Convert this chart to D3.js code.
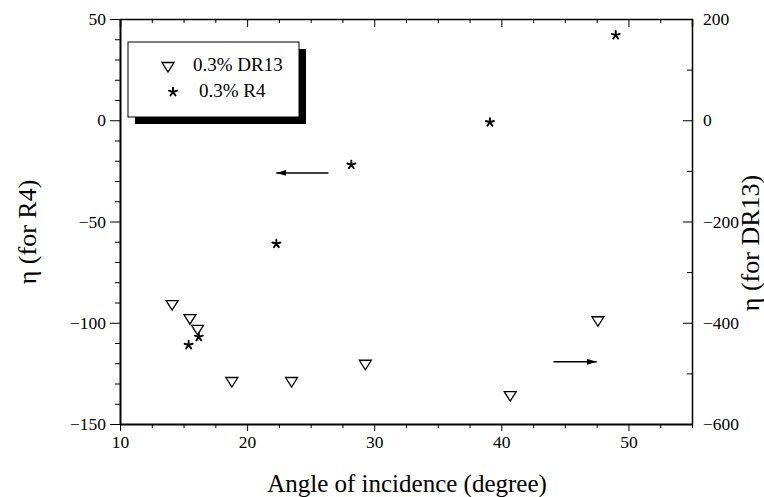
<!DOCTYPE html>
<html>
<head>
<meta charset="utf-8">
<script src="https://cdn.jsdelivr.net/npm/d3@7"></script>
<style>
	body { margin: 0; background: #fff; }
	.axis path, .axis line { stroke: #000; }
</style>
</head>
<body>
<svg id="chart"></svg>
<script>
// angle of incidence (degree) and eta values
const r4Angle = [15.4, 16.2, 22.3, 28.2, 39.1, 49.0];
const r4Eta = [-111, -107, -61, -22, -1, 42];

const dr13Angle = [14.1, 15.5, 16.1, 18.8, 23.5, 29.3, 40.7, 47.6];
const dr13Eta = [-365, -393, -414, -517, -517, -483, -545, -397];

const xTicks = [10, 20, 30, 40, 50];
const yLeftTicks = [50, 0, -50, -100, -150];
const yRightTicks = [200, 0, -200, -400, -600];

const seriesNames = ['0.3% DR13', '0.3% R4'];

const FONT = '"Liberation Serif"';

const config = {
	width: 764,
	height: 497,
	margin: { top: 19, right: 72, bottom: 73, left: 120 },
};

const svg = d3.select('#chart')
	.attr('width', config.width)
	.attr('height', config.height);

const w = config.width - config.margin.left - config.margin.right;
const h = config.height - config.margin.top - config.margin.bottom;

const chart = svg.append('g')
	.attr('transform', `translate(${config.margin.left},${config.margin.top})`);

const x = d3.scaleLinear().domain([10, 55]).range([0, w]);
const yL = d3.scaleLinear().domain([-150, 50]).range([h, 0]);
const yR = d3.scaleLinear().domain([-600, 200]).range([h, 0]);

// minor tick values
const xMinor = d3.range(10, 55.01, 2.5).filter(v => v % 10 !== 0);
const yLMinor = d3.range(-150, 50.01, 10).filter(v => v % 50 !== 0);
const yRMinor = d3.range(-600, 200.01, 100).filter(v => v % 200 !== 0);

// bottom axis (ticks outward)
chart.append('g').attr('class', 'axis')
	.attr('transform', `translate(0,${h})`)
	.call(d3.axisBottom(x).tickValues(xTicks).tickSizeInner(7).tickSizeOuter(0).tickPadding(5))
	.call(g => g.select('.domain').attr('stroke-width', 2));
chart.append('g').attr('class', 'axis')
	.attr('transform', `translate(0,${h})`)
	.call(d3.axisBottom(x).tickValues(xMinor).tickSize(4).tickFormat(''))
	.call(g => g.select('.domain').remove());

// top axis (ticks inward)
chart.append('g').attr('class', 'axis')
	.call(d3.axisTop(x).tickValues(xTicks).tickSize(-8).tickFormat(''))
	.call(g => g.select('.domain').attr('stroke-width', 1.5));
chart.append('g').attr('class', 'axis')
	.call(d3.axisTop(x).tickValues(xMinor).tickSize(-4).tickFormat(''))
	.call(g => g.select('.domain').remove());

// left axis (ticks outward)
chart.append('g').attr('class', 'axis')
	.call(d3.axisLeft(yL).tickValues(yLeftTicks).tickSizeInner(10).tickSizeOuter(0).tickPadding(4))
	.call(g => g.select('.domain').attr('stroke-width', 2));
chart.append('g').attr('class', 'axis')
	.call(d3.axisLeft(yL).tickValues(yLMinor).tickSize(5).tickFormat(''))
	.call(g => g.select('.domain').remove());

// right axis (ticks inward)
chart.append('g').attr('class', 'axis')
	.attr('transform', `translate(${w},0)`)
	.call(d3.axisRight(yR).tickValues(yRightTicks).tickSizeInner(-9).tickSizeOuter(0).tickPadding(11))
	.call(g => g.select('.domain').attr('stroke-width', 1.5));
chart.append('g').attr('class', 'axis')
	.attr('transform', `translate(${w},0)`)
	.call(d3.axisRight(yR).tickValues(yRMinor).tickSize(-5).tickFormat(''))
	.call(g => g.select('.domain').remove());

chart.selectAll('.axis text')
	.style('font-family', FONT)
	.style('font-size', '17.5px')
	.attr('fill', '#000');

// axis titles
svg.append('text')
	.attr('x', 407)
	.attr('y', 492)
	.attr('text-anchor', 'middle')
	.style('font-family', FONT)
	.style('font-size', '25px')
	.text('Angle of incidence (degree)');

svg.append('text')
	.attr('transform', 'translate(36,232) rotate(-90)')
	.attr('text-anchor', 'middle')
	.style('font-family', FONT)
	.style('font-size', '26px')
	.text('η (for R4)');

svg.append('text')
	.attr('transform', 'translate(759,243) rotate(-90)')
	.attr('text-anchor', 'middle')
	.style('font-family', FONT)
	.style('font-size', '26px')
	.text('η (for DR13)');

// markers
const triPath = 'M-6,-4.5L6,-4.5L0,5Z';
const starPath = d3.range(5).map(i => {
	const a = -Math.PI / 2 + i * 2 * Math.PI / 5;
	return `M0,0L${(4.2 * Math.cos(a)).toFixed(2)},${(4.2 * Math.sin(a)).toFixed(2)}`;
}).join('');

const dr13 = dr13Angle.map((a, i) => ({ a, v: dr13Eta[i] }));
const r4 = r4Angle.map((a, i) => ({ a, v: r4Eta[i] }));

chart.selectAll('.tri')
	.data(dr13)
	.join('path')
	.attr('class', 'tri')
	.attr('transform', d => `translate(${x(d.a)},${yR(d.v)})`)
	.attr('d', triPath)
	.attr('fill', 'none')
	.attr('stroke', '#000')
	.attr('stroke-width', 1.3);

chart.selectAll('.star')
	.data(r4)
	.join('path')
	.attr('class', 'star')
	.attr('transform', d => `translate(${x(d.a)},${yL(d.v)})`)
	.attr('d', starPath)
	.attr('stroke', '#000')
	.attr('stroke-width', 1.9)
	.attr('stroke-linecap', 'round');

// arrows pointing at each axis
svg.append('defs').append('marker')
	.attr('id', 'head')
	.attr('viewBox', '0 0 10 6')
	.attr('refX', 10)
	.attr('refY', 3)
	.attr('markerUnits', 'userSpaceOnUse')
	.attr('markerWidth', 10)
	.attr('markerHeight', 6)
	.attr('orient', 'auto')
	.append('path')
	.attr('d', 'M0,0L10,3L0,6Z')
	.attr('fill', '#000');

const arrows = [
	{ x1: 26.4, x2: 22.3, y: yL(-26) },
	{ x1: 44.1, x2: 47.5, y: yR(-477) },
];
chart.selectAll('.arrow')
	.data(arrows)
	.join('line')
	.attr('class', 'arrow')
	.attr('x1', d => x(d.x1))
	.attr('x2', d => x(d.x2))
	.attr('y1', d => d.y)
	.attr('y2', d => d.y)
	.attr('stroke', '#000')
	.attr('stroke-width', 1.5)
	.attr('marker-end', 'url(#head)');

// legend with drop shadow
const legend = svg.append('g').attr('transform', 'translate(128,42)');
legend.append('rect')
	.attr('x', 7).attr('y', 7)
	.attr('width', 171).attr('height', 75)
	.attr('fill', '#000');
legend.append('rect')
	.attr('x', 0).attr('y', 0)
	.attr('width', 171).attr('height', 75)
	.attr('fill', '#fff')
	.attr('stroke', '#000')
	.attr('stroke-width', 1);
legend.append('path')
	.attr('transform', 'translate(40,25)')
	.attr('d', triPath)
	.attr('fill', 'none')
	.attr('stroke', '#000')
	.attr('stroke-width', 1.3);
legend.append('path')
	.attr('transform', 'translate(45,50)')
	.attr('d', starPath)
	.attr('stroke', '#000')
	.attr('stroke-width', 1.9)
	.attr('stroke-linecap', 'round');
legend.selectAll('.leg-text')
	.data(seriesNames)
	.join('text')
	.attr('class', 'leg-text')
	.attr('x', (d, i) => i === 0 ? 65 : 71)
	.attr('y', (d, i) => 29 + i * 26)
	.style('font-family', FONT)
	.style('font-size', '19px')
	.text(d => d);
</script>
</body>
</html>
